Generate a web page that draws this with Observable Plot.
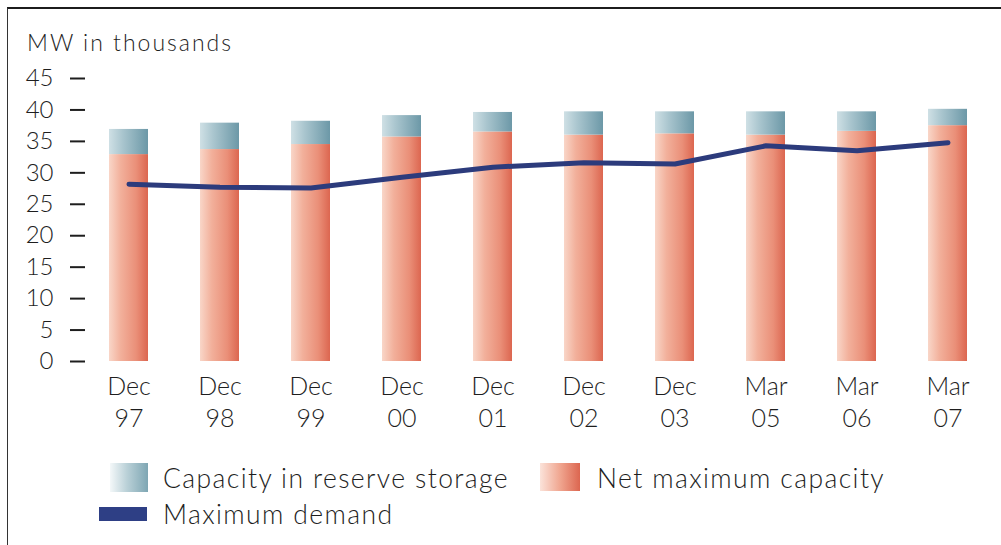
<!DOCTYPE html>
<html>
<head>
<meta charset="utf-8">
<script src="https://cdn.jsdelivr.net/npm/d3@7"></script>
<script src="https://cdn.jsdelivr.net/npm/@observablehq/plot@0.6"></script>
<style>
  body { margin: 0; background: #fff; font-family: Lato, "Open Sans", "DejaVu Sans", sans-serif; font-weight: 300; color: #1e1e1e; }
  #wrap { position: relative; width: 1001px; height: 545px; overflow: hidden; }
  #frame { position: absolute; left: 7px; top: 7px; width: 1010px; height: 560px;
           border-top: 2px solid #1c1c1c; border-left: 1.5px solid #333; }
  #title { position: absolute; left: 27px; top: 27px; font-size: 23px; line-height: 30px; letter-spacing: 2px; white-space: nowrap; }
  #chart { position: absolute; left: 0; top: 60px; }
  #chart svg text { font-weight: 300; }
  .sw { position: absolute; }
  .lab { position: absolute; font-size: 26.5px; line-height: 30px; letter-spacing: 1.4px; white-space: nowrap; }
</style>
</head>
<body>
<div id="wrap">
  <div id="frame"></div>
  <div id="title">MW in thousands</div>
  <div id="chart"></div>
  <div id="legend"></div>
</div>
<script>
// Reporting periods (month + two-digit year)
const months = ["Dec", "Dec", "Dec", "Dec", "Dec", "Dec", "Dec", "Mar", "Mar", "Mar"];
const years  = ["97", "98", "99", "00", "01", "02", "03", "05", "06", "07"];

// MW in thousands
const netCapacity     = [32.9, 33.7, 34.5, 35.7, 36.5, 36.0, 36.2, 36.0, 36.6, 37.5];
const reserveCapacity = [4.0, 4.2, 3.7, 3.4, 3.1, 3.7, 3.5, 3.7, 3.1, 2.6];
const maximumDemand   = [28.2, 27.7, 27.6, 29.3, 30.9, 31.6, 31.4, 34.3, 33.5, 34.8];

const yTicks = [0, 5, 10, 15, 20, 25, 30, 35, 40, 45];

const seriesNames = ["Capacity in reserve storage", "Net maximum capacity", "Maximum demand"];

const periods = months.map((m, i) => `${m}\n${years[i]}`);
const rows = periods.map((p, i) => ({
  period: p,
  net: netCapacity[i],
  top: netCapacity[i] + reserveCapacity[i],
  demand: maximumDemand[i]
}));

// Horizontal shading used for the bar fills
function gradients() {
  const g = d3.create("svg:g");
  const defs = g.append("defs");
  const add = (id, stops) => {
    const lg = defs.append("linearGradient").attr("id", id)
      .attr("x1", 0).attr("x2", 1).attr("y1", 0).attr("y2", 0);
    for (const [o, c] of stops) lg.append("stop").attr("offset", o).attr("stop-color", c);
  };
  add("gradNet", [[0, "#f9d6c8"], [0.3, "#f2b09b"], [0.7, "#ea8f78"], [1, "#dc6650"]]);
  add("gradReserve", [[0, "#cfe0e5"], [0.35, "#a9c5ce"], [1, "#6c98a7"]]);
  return g.node();
}

const chart = Plot.plot({
  width: 1001,
  height: 380,
  marginLeft: 85,
  marginRight: 10,
  marginTop: 18,
  marginBottom: 79,
  style: { fontFamily: "Lato, 'Open Sans', sans-serif", color: "#1e1e1e", background: "transparent", overflow: "visible" },
  x: { domain: periods, paddingInner: 0.576, paddingOuter: 0.2175, align: 0.5, label: null },
  y: { domain: [0, 45], label: null },
  marks: [
    gradients,
    Plot.barY(rows, { x: "period", y1: 0, y2: "net", fill: "url(#gradNet)" }),
    Plot.barY(rows, { x: "period", y1: "net", y2: "top", fill: "url(#gradReserve)" }),
    Plot.lineY(rows, { x: "period", y: "demand", stroke: "#2c3b7c", strokeWidth: 5, strokeLinejoin: "round" }),
    Plot.axisY({ ticks: yTicks, tickSize: 15, tickPadding: 17, strokeWidth: 2, fontSize: 24, label: null }),
    Plot.axisX({ tickSize: 0, tickPadding: 10, fontSize: 25, lineHeight: 1.3, label: null })
  ]
});
document.getElementById("chart").appendChild(chart);

// Legend
const legend = document.getElementById("legend");
const items = [
  { name: seriesNames[0], bg: "linear-gradient(to right, #f4f8f9, #b9d0d7 45%, #7ea6b3)", sw: [110, 463, 38, 29], tx: [163, 463] },
  { name: seriesNames[1], bg: "linear-gradient(to right, #fbe3da, #f0a690 50%, #dc6650)", sw: [540, 463, 40, 28], tx: [597, 463] },
  { name: seriesNames[2], bg: "#2e3f85", sw: [99, 507, 48, 14], tx: [163, 499] }
];
for (const it of items) {
  const s = document.createElement("div");
  s.className = "sw";
  Object.assign(s.style, { left: it.sw[0] + "px", top: it.sw[1] + "px", width: it.sw[2] + "px", height: it.sw[3] + "px", background: it.bg });
  legend.appendChild(s);
  const t = document.createElement("div");
  t.className = "lab";
  t.textContent = it.name;
  Object.assign(t.style, { left: it.tx[0] + "px", top: it.tx[1] + "px" });
  legend.appendChild(t);
}
</script>
</body>
</html>
